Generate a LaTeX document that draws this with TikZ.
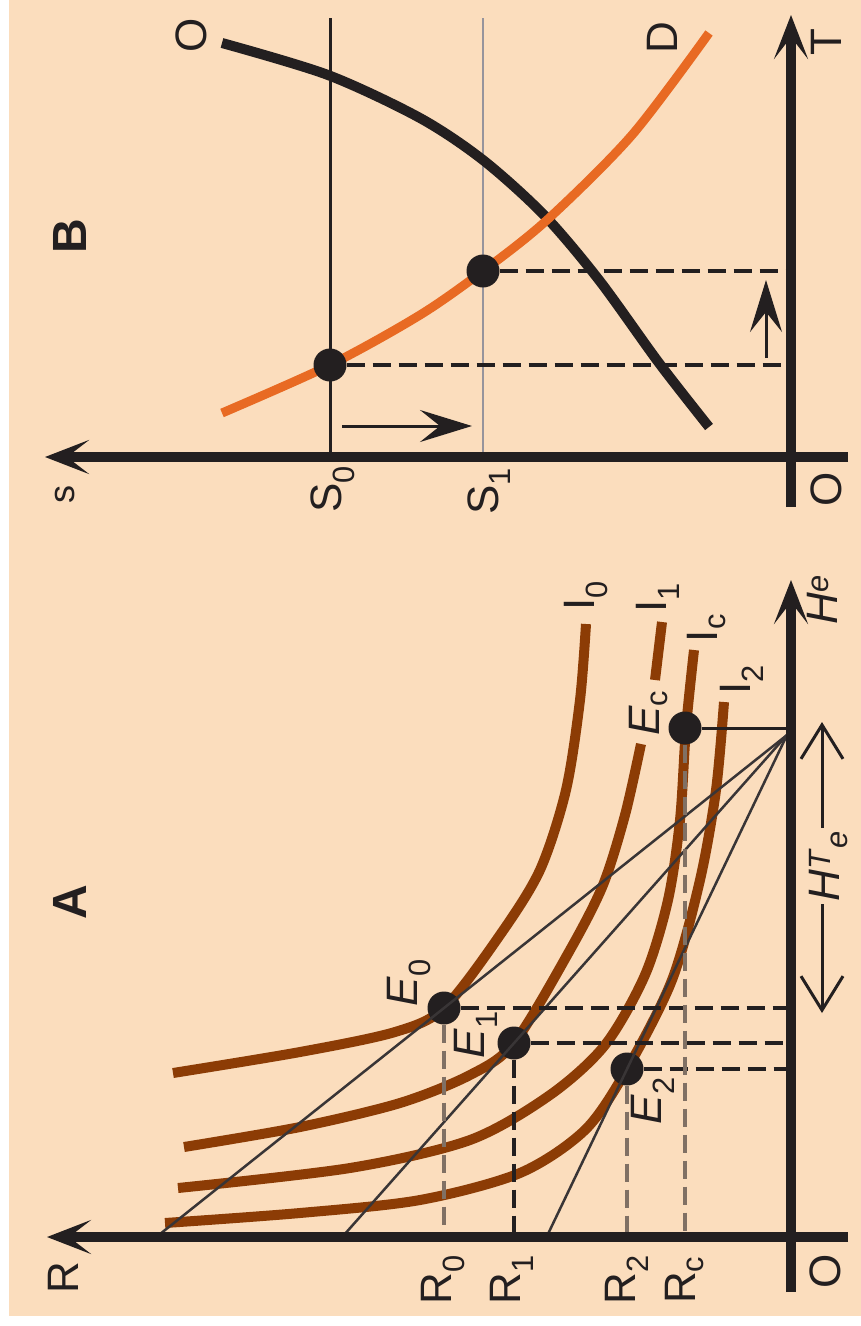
\documentclass[tikz,border=0pt]{standalone}
\usepackage{fontspec}
\setmainfont{Liberation Sans}
\usetikzlibrary{arrows.meta}
\definecolor{peach}{RGB}{251,221,189}
\definecolor{ink}{RGB}{35,31,32}
\definecolor{supply}{RGB}{232,106,35}
\definecolor{indiff}{RGB}{140,60,5}
\definecolor{guide}{RGB}{150,148,156}
\definecolor{drop}{RGB}{128,112,100}
\tikzset{
  axisline/.style={line width=10pt,draw=ink,-{Stealth[length=44pt,width=34pt,inset=22pt]}},
  move/.style={line width=3pt,draw=ink,-{Stealth[length=52pt,width=32pt,inset=20pt]}},
  dotmark/.style={circle,fill=ink,inner sep=0pt,minimum size=33pt},
  lbl/.style={rotate=90,inner sep=0pt,text=ink,font=\fontsize{44}{44}\selectfont},
  panel/.style={rotate=90,inner sep=0pt,text=ink,font=\fontsize{48}{48}\selectfont\bfseries},
  hdash/.style={line width=3.5pt,draw=ink,dash pattern=on 18pt off 8pt},
  vdash/.style={line width=3.5pt,draw=drop,dash pattern=on 18pt off 8pt},
  fan/.style={line width=2.5pt,draw=ink!90},
  icurve/.style={line width=10pt,draw=indiff},
}
\begin{document}
\begin{tikzpicture}[x=1pt,y=-1pt]
\useasboundingbox (0,0) rectangle (861,1326);
\fill[white] (0,0) rectangle (861,1326);
\fill[peach] (9,0) rectangle (861,1316);

% panel B
\coordinate (BO) at (791,457);
\coordinate (BTtop) at (791,15);
\coordinate (BTbot) at (791,507);
\coordinate (BSend) at (45,457);
\coordinate (BSright) at (848,457);
\draw[line width=3pt,draw=ink] (330,18) -- (330,457);
\draw[line width=2pt,draw=guide] (483,18) -- (483,457);
\draw[line width=10pt,draw=ink] plot[smooth] coordinates {(222,43) (328,75) (420,118) (483,160) (544,215) (599,280) (659,363) (709,427)};
\draw[line width=9pt,draw=supply] plot[smooth] coordinates {(222,413) (330,365) (420,315) (483,271) (547,220) (632,135) (709,33)};
\node[dotmark] (S0dot) at (330,365) {};
\node[dotmark] (S1dot) at (483,271) {};
\draw[hdash] (S0dot.east) -- (S0dot.east -| BO);
\draw[hdash] (S1dot.east) -- (S1dot.east -| BO);
\draw[move] (342,426) -- (472,426);
\draw[move] (766,358) -- (766,280);
\draw[axisline] (BTbot) -- (BTtop);
\draw[axisline] (BSright) -- (BSend);
\node[lbl] (Olab) at (191,35) {O};
\node[lbl] (Dlab) at (662,38) {D};
\node[lbl] (Tlab) at (826,42) {T};
\node[panel] (Blab) at (70,236) {B};
\node[lbl,font=\fontsize{36}{36}\selectfont] (slab) at (65,494) {s};
\node[lbl] (S0lab) at (333,489) {S\textsubscript{0}};
\node[lbl] (S1lab) at (489,491) {S\textsubscript{1}};
\node[lbl] (BOlab) at (826,489) {O};

% panel A
\coordinate (AO) at (791,1237);
\coordinate (AHtop) at (791,580);
\coordinate (AHbot) at (791,1292);
\coordinate (ARend) at (47,1237);
\coordinate (ARright) at (848,1237);
\coordinate (apex) at (787,735);
\draw[icurve] plot[smooth] coordinates {(586,624) (580,700) (566,790) (540,870) (500,935) (444,1008) (395,1032) (300,1052) (173,1073)};
\draw[icurve] (662,622) -- (655,680);
\draw[icurve] plot[smooth] coordinates {(641,744) (625,815) (603,885) (570,950) (514,1043) (470,1075) (400,1103) (300,1127) (184,1147)};
\draw[icurve] plot[smooth] coordinates {(694,650) (686,728) (680,820) (668,900) (645,975) (605,1045) (550,1095) (470,1140) (350,1168) (178,1188)};
\draw[icurve] plot[smooth] coordinates {(724,702) (716,790) (700,880) (672,980) (627,1069) (585,1130) (520,1173) (420,1200) (300,1213) (165,1223)};
\node[dotmark] (E0) at (444,1008) {};
\node[dotmark] (E1) at (514,1043) {};
\node[dotmark] (E2) at (627,1069) {};
\node[dotmark] (Ec) at (685,728) {};
\coordinate (F0) at (intersection of apex--E0 and ARend--AO);
\coordinate (F1) at (intersection of apex--E1 and ARend--AO);
\coordinate (F2) at (intersection of apex--E2 and ARend--AO);
\draw[fan] (apex) -- (F0);
\draw[fan] (apex) -- (F1);
\draw[fan] (apex) -- (F2);
\draw[line width=3pt,draw=ink] (Ec) -- (Ec -| AO);
\draw[hdash] (E0.east) -- (E0.east -| AO);
\draw[hdash] (E1.east) -- (E1.east -| AO);
\draw[hdash] (E2.east) -- (E2.east -| AO);
\draw[vdash] (E0.south) -- (E0.south |- AO);
\draw[hdash] (E1.south) -- (E1.south |- AO);
\draw[vdash] (E2.south) -- (E2.south |- AO);
\draw[vdash] (Ec.south) -- (Ec.south |- AO);
\draw[line width=3pt,draw=ink,{Straight Barb[length=34pt,width=42pt,line width=3pt]}-{Straight Barb[length=34pt,width=42pt,line width=3pt]}] (822,722) -- (822,1013);
\draw[axisline] (AHbot) -- (AHtop);
\draw[axisline] (ARright) -- (ARend);
\node[lbl,fill=peach,inner sep=3pt] (HTlab) at (829,866) {\textit{H}\textsuperscript{\textit{T}}\textsubscript{\textit{e}}};
\node[lbl] (Hlab) at (822,600) {\textit{H}\textsuperscript{\textit{e}}};
\node[panel] (Alab) at (70,902) {A};
\node[lbl] (Rlab) at (63,1278) {R};
\node[lbl] (AOlab) at (825,1271) {O};
\node[lbl] (R0lab) at (443,1280) {R\textsubscript{0}};
\node[lbl] (R1lab) at (512,1280) {R\textsubscript{1}};
\node[lbl] (R2lab) at (627,1280) {R\textsubscript{2}};
\node[lbl] (Rclab) at (685,1280) {R\textsubscript{c}};
\node[lbl] (I0lab) at (586,596) {I\textsubscript{0}};
\node[lbl] (I1lab) at (658,598) {I\textsubscript{1}};
\node[lbl] (Iclab) at (707,628) {I\textsubscript{c}};
\node[lbl] (I2lab) at (742,680) {I\textsubscript{2}};
\node[lbl] (Eclab) at (649,713) {\textit{E}\textsubscript{c}};
\node[lbl] (E0lab) at (409,983) {\textit{E}\textsubscript{0}};
\node[lbl] (E1lab) at (476,1035) {\textit{E}\textsubscript{1}};
\node[lbl] (E2lab) at (653,1101) {\textit{E}\textsubscript{2}};
\end{tikzpicture}
\end{document}
